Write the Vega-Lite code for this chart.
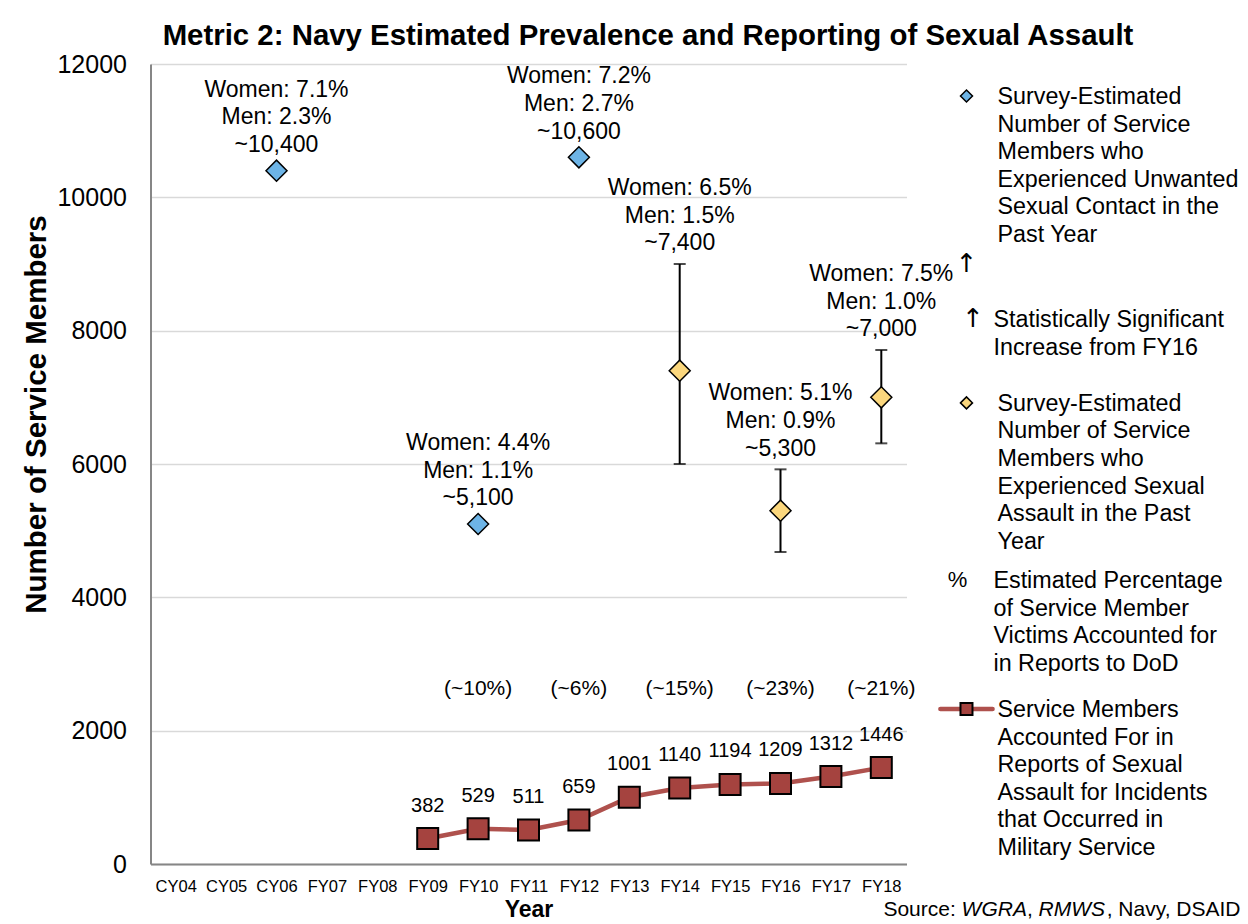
{
  "$schema": "https://vega.github.io/schema/vega-lite/v6.json",
  "background": "white",
  "padding": {"left": 21.5, "top": 20, "right": 0, "bottom": 0},
  "autosize": {"type": "pad"},
  "bounds": "flush",
  "spacing": 24,
  "config": {
    "view": {"stroke": null},
    "font": "Liberation Sans",
    "axis": {"labelFont": "Liberation Sans", "titleFont": "Liberation Sans", "labelColor": "black", "titleColor": "black"},
    "text": {"font": "Liberation Sans", "color": "black"}
  },
  "title": {
    "text": "Metric 2: Navy Estimated Prevalence and Reporting of Sexual Assault",
    "font": "Liberation Sans", "fontSize": 29.4, "fontWeight": "bold", "color": "black",
    "anchor": "middle", "offset": 1, "dx": 13
  },
  "datasets": {
    "reports": [
      {"year": "FY09", "value": 382}, {"year": "FY10", "value": 529}, {"year": "FY11", "value": 511},
      {"year": "FY12", "value": 659}, {"year": "FY13", "value": 1001}, {"year": "FY14", "value": 1140},
      {"year": "FY15", "value": 1194}, {"year": "FY16", "value": 1209}, {"year": "FY17", "value": 1312},
      {"year": "FY18", "value": 1446}
    ],
    "contact": [
      {"year": "CY06", "value": 10400, "label": "Women: 7.1%\nMen: 2.3%\n~10,400"},
      {"year": "FY10", "value": 5100, "label": "Women: 4.4%\nMen: 1.1%\n~5,100"},
      {"year": "FY12", "value": 10600, "label": "Women: 7.2%\nMen: 2.7%\n~10,600"}
    ],
    "assault": [
      {"year": "FY14", "value": 7400, "lo": 6000, "hi": 9000, "label": "Women: 6.5%\nMen: 1.5%\n~7,400"},
      {"year": "FY16", "value": 5300, "lo": 4680, "hi": 5920, "label": "Women: 5.1%\nMen: 0.9%\n~5,300"},
      {"year": "FY18", "value": 7000, "lo": 6310, "hi": 7710, "label": "Women: 7.5%\nMen: 1.0%\n~7,000"}
    ],
    "pct": [
      {"year": "FY10", "pct": "(~10%)"}, {"year": "FY12", "pct": "(~6%)"}, {"year": "FY14", "pct": "(~15%)"},
      {"year": "FY16", "pct": "(~23%)"}, {"year": "FY18", "pct": "(~21%)"}
    ],
    "sig": [{"year": "FY18", "hi": 7710, "mark": "↑"}]
  },
  "hconcat": [
    {
      "width": 756,
      "height": 800,
      "encoding": {
        "x": {
          "field": "year", "type": "ordinal", "title": "Year",
          "scale": {"type": "point", "padding": 0.5,
            "domain": ["CY04","CY05","CY06","FY07","FY08","FY09","FY10","FY11","FY12","FY13","FY14","FY15","FY16","FY17","FY18"]},
          "axis": {"labelAngle": 0, "labelFontSize": 16.5, "labelPadding": 14, "ticks": false, "grid": false,
            "domainColor": "#868686", "domainWidth": 2, "titleFontSize": 23, "titleFontWeight": "bold", "titlePadding": 4}
        }
      },
      "layer": [
        {
          "data": {"name": "reports"},
          "mark": {"type": "line", "color": "#AF514D", "strokeWidth": 4.5},
          "encoding": {
            "y": {"field": "value", "type": "quantitative", "title": "Number of Service Members",
              "scale": {"domain": [0, 12000], "nice": false},
              "axis": {"values": [0,2000,4000,6000,8000,10000,12000], "format": "d", "labelFontSize": 25, "labelPadding": 24,
                "ticks": false, "domainColor": "#868686", "domainWidth": 2, "gridColor": "#D9D9D9", "gridWidth": 1.5,
                "minExtent": 94, "maxExtent": 94, "titleFontSize": 29.5, "titleFontWeight": "bold", "titlePadding": 5, "titleY": 350}
            }
          }
        },
        {
          "data": {"name": "reports"},
          "mark": {"type": "point", "shape": "square", "size": 441, "filled": true, "fill": "#A5433F", "stroke": "black", "strokeWidth": 2, "opacity": 1},
          "encoding": {"y": {"field": "value", "type": "quantitative", "title": "Number of Service Members"}}
        },
        {
          "data": {"name": "reports"},
          "mark": {"type": "text", "fontSize": 20, "baseline": "middle", "dy": -33},
          "encoding": {"y": {"field": "value", "type": "quantitative", "title": "Number of Service Members"}, "text": {"field": "value", "type": "quantitative", "format": "d"}}
        },
        {
          "data": {"name": "assault"},
          "mark": {"type": "errorbar", "color": "black", "ticks": {"size": 12, "thickness": 2, "color": "black"}, "rule": {"strokeWidth": 2, "color": "black"}},
          "encoding": {
            "y": {"field": "lo", "type": "quantitative", "title": "Number of Service Members"},
            "y2": {"field": "hi"}
          }
        },
        {
          "data": {"name": "contact"},
          "mark": {"type": "point", "shape": "diamond", "size": 441, "filled": true, "fill": "#6DB4E6", "stroke": "black", "strokeWidth": 1.5, "opacity": 1},
          "encoding": {"y": {"field": "value", "type": "quantitative", "title": "Number of Service Members"}}
        },
        {
          "data": {"name": "assault"},
          "mark": {"type": "point", "shape": "diamond", "size": 441, "filled": true, "fill": "#FBD77D", "stroke": "black", "strokeWidth": 1.5, "opacity": 1},
          "encoding": {"y": {"field": "value", "type": "quantitative", "title": "Number of Service Members"}}
        },
        {
          "data": {"name": "contact"},
          "mark": {"type": "text", "fontSize": 23, "lineBreak": "\n", "lineHeight": 27.6, "baseline": "alphabetic", "dy": -74},
          "encoding": {"y": {"field": "value", "type": "quantitative", "title": "Number of Service Members"}, "text": {"field": "label"}}
        },
        {
          "data": {"name": "assault"},
          "mark": {"type": "text", "fontSize": 23, "lineBreak": "\n", "lineHeight": 27.6, "baseline": "alphabetic", "dy": -69},
          "encoding": {"y": {"field": "hi", "type": "quantitative", "title": "Number of Service Members"}, "text": {"field": "label"}}
        },
        {
          "data": {"name": "pct"},
          "mark": {"type": "text", "fontSize": 21, "baseline": "middle"},
          "encoding": {"y": {"datum": 2625, "type": "quantitative"}, "text": {"field": "pct"}}
        },
        {
          "data": {"name": "sig"},
          "mark": {"type": "text", "font": "DejaVu Sans", "fontSize": 26, "baseline": "middle", "dx": 85, "dy": -86},
          "encoding": {"y": {"field": "hi", "type": "quantitative", "title": "Number of Service Members"}, "text": {"field": "mark"}}
        }
      ]
    },
    {
      "width": 318,
      "height": 800,
      "encoding": {
        "y": {"field": "row", "type": "quantitative", "axis": null, "scale": {"domain": [-1.16, 27.83], "reverse": true, "nice": false, "zero": false}}
      },
      "layer": [
        {
          "data": {"values": [
            {"row": 0, "label": "Survey-Estimated\nNumber of Service\nMembers who\nExperienced Unwanted\nSexual Contact in the\nPast Year"},
            {"row": 11.12, "label": "Survey-Estimated\nNumber of Service\nMembers who\nExperienced Sexual\nAssault in the Past\nYear"},
            {"row": 22.21, "label": "Service Members\nAccounted For in\nReports of Sexual\nAssault for Incidents\nthat Occurred in\nMilitary Service"}
          ]},
          "mark": {"type": "text", "fontSize": 23.3, "lineBreak": "\n", "lineHeight": 27.6, "baseline": "alphabetic", "align": "left", "dy": 8},
          "encoding": {
            "x": {"datum": 1.07, "type": "quantitative", "axis": null, "scale": {"domain": [-1.241, 9.724], "nice": false, "zero": false}},
            "text": {"field": "label"}
          }
        },
        {
          "data": {"values": [
            {"row": 8.08, "label": "Statistically Significant\nIncrease from FY16"},
            {"row": 17.54, "label": "Estimated Percentage\nof Service Member\nVictims Accounted for\nin Reports to DoD"}
          ]},
          "mark": {"type": "text", "fontSize": 23.3, "lineBreak": "\n", "lineHeight": 27.6, "baseline": "alphabetic", "align": "left", "dy": 8},
          "encoding": {"x": {"datum": 0.93, "type": "quantitative"}, "text": {"field": "label"}}
        },
        {
          "data": {"values": [{"row": 0, "series": "contact"}]},
          "mark": {"type": "point", "shape": "diamond", "size": 144, "filled": true, "fill": "#6DB4E6", "stroke": "black", "strokeWidth": 1.5, "opacity": 1},
          "encoding": {"x": {"datum": 0, "type": "quantitative"}}
        },
        {
          "data": {"values": [{"row": 11.12, "series": "assault"}]},
          "mark": {"type": "point", "shape": "diamond", "size": 144, "filled": true, "fill": "#FBD77D", "stroke": "black", "strokeWidth": 1.5, "opacity": 1},
          "encoding": {"x": {"datum": 0, "type": "quantitative"}}
        },
        {
          "data": {"values": [{"row": 8.08, "sym": "↑"}]},
          "mark": {"type": "text", "font": "DejaVu Sans", "fontSize": 26, "baseline": "middle", "align": "center"},
          "encoding": {"x": {"datum": 0.22, "type": "quantitative"}, "text": {"field": "sym"}}
        },
        {
          "data": {"values": [{"row": 17.54, "sym": "%"}]},
          "mark": {"type": "text", "fontSize": 22, "baseline": "middle", "align": "center"},
          "encoding": {"x": {"datum": -0.31, "type": "quantitative"}, "text": {"field": "sym"}}
        },
        {
          "data": {"values": [{"row": 22.21, "series": "reports"}]},
          "mark": {"type": "rule", "color": "#AF514D", "strokeWidth": 4.5, "strokeCap": "round"},
          "encoding": {"x": {"datum": -0.9, "type": "quantitative"}, "x2": {"datum": 0.9}}
        },
        {
          "data": {"values": [{"row": 22.21, "series": "reports"}]},
          "mark": {"type": "point", "shape": "square", "size": 144, "filled": true, "fill": "#A5433F", "stroke": "black", "strokeWidth": 2, "opacity": 1},
          "encoding": {"x": {"datum": 0, "type": "quantitative"}}
        },
        {
          "data": {"values": [{"row": 29.5, "seg": "Source:"}]},
          "mark": {"type": "text", "fontSize": 21, "baseline": "middle", "align": "right", "dx": -284.7},
          "encoding": {"x": {"datum": 9.448, "type": "quantitative"}, "text": {"field": "seg"}}
        },
        {
          "data": {"values": [{"row": 29.5, "seg": "WGRA"}]},
          "mark": {"type": "text", "fontSize": 21, "fontStyle": "italic", "baseline": "middle", "align": "right", "dx": -213.6},
          "encoding": {"x": {"datum": 9.448, "type": "quantitative"}, "text": {"field": "seg"}}
        },
        {
          "data": {"values": [{"row": 29.5, "seg": ","}]},
          "mark": {"type": "text", "fontSize": 21, "baseline": "middle", "align": "left", "dx": -213.6},
          "encoding": {"x": {"datum": 9.448, "type": "quantitative"}, "text": {"field": "seg"}}
        },
        {
          "data": {"values": [{"row": 29.5, "seg": "RMWS"}]},
          "mark": {"type": "text", "fontSize": 21, "fontStyle": "italic", "baseline": "middle", "align": "right", "dx": -135.4},
          "encoding": {"x": {"datum": 9.448, "type": "quantitative"}, "text": {"field": "seg"}}
        },
        {
          "data": {"values": [{"row": 29.5, "seg": ", Navy, DSAID"}]},
          "mark": {"type": "text", "fontSize": 21, "baseline": "middle", "align": "right"},
          "encoding": {"x": {"datum": 9.448, "type": "quantitative"}, "text": {"field": "seg"}}
        }
      ]
    }
  ]
}
